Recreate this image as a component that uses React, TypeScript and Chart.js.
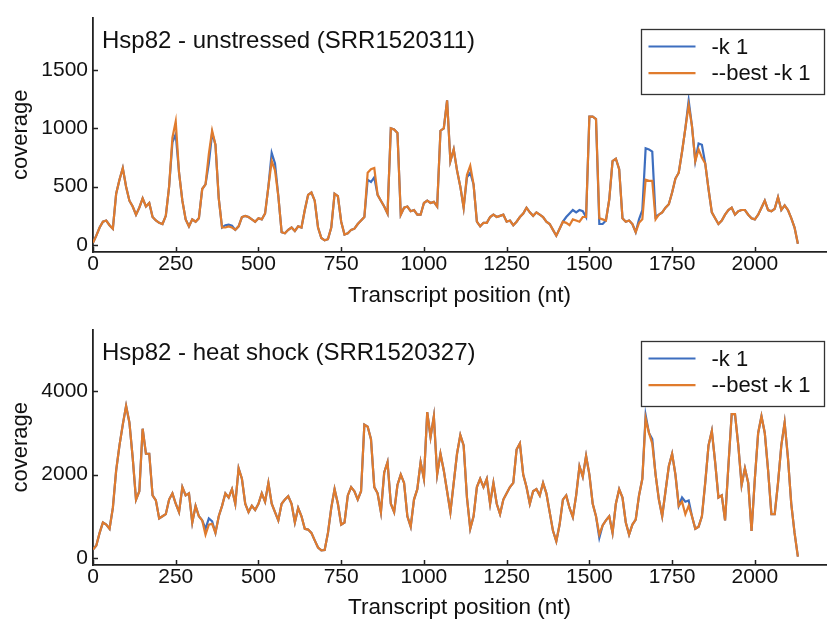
import React, { useEffect, useRef } from "react";
import { Chart, registerables } from "chart.js";

Chart.register(...registerables);

// ---------- data (coverage sampled every 10 nt) ----------
const positionStep = 10;
const positionCount = 214; // 0 .. 2130 nt
const positions: number[] = Array.from({ length: positionCount }, (_, i) => i * positionStep);

const seriesLabels = ["-k 1", "--best -k 1"];
const xTicks = [0, 250, 500, 750, 1000, 1250, 1500, 1750, 2000];
const yTicksUnstressed = [0, 500, 1000, 1500];
const yTicksHeat = [0, 2000, 4000];
const panelTitles = ["Hsp82 - unstressed (SRR1520311)", "Hsp82 - heat shock (SRR1520327)"];

// unstressed, --best -k 1
const unstressedBest: number[] = [
  20, 80, 150, 200, 210, 170, 140, 440, 560, 660,
  500, 380, 330, 260, 320, 400, 330, 360, 240, 210,
  190, 180, 250, 500, 920, 1060, 620, 380, 220, 160,
  220, 200, 230, 480, 520, 780, 980, 860, 400, 150,
  150, 160, 150, 130, 160, 240, 250, 240, 220, 200,
  230, 220, 270, 500, 720, 640, 420, 110, 100, 130,
  150, 120, 160, 150, 300, 430, 450, 380, 150, 60,
  40, 50, 150, 440, 420, 200, 90, 100, 130, 140,
  180, 210, 240, 620, 650, 660, 430, 380, 330, 270,
  1000, 990, 960, 260, 320, 330, 290, 300, 260, 260,
  360, 380, 360, 370, 330, 980, 1000, 1240, 720, 820,
  640, 500, 320, 600, 680, 520, 200, 160, 190, 190,
  240, 260, 240, 250, 260, 200, 210, 170, 200, 240,
  270, 320, 280, 250, 280, 260, 240, 200, 180, 130,
  80, 140, 200, 190, 170, 220, 210, 200, 240, 240,
  1100, 1100, 1080, 230, 220, 210, 390, 720, 740, 650,
  230, 200, 210, 180, 110, 190, 220, 560, 550, 550,
  220, 260, 280, 320, 350, 450, 570, 620, 800, 1000,
  1200, 1020, 720, 820, 750, 700, 480, 280, 230, 180,
  210, 260, 300, 320, 260, 290, 300, 300, 260, 230,
  220, 260, 320, 380, 300, 290, 310, 410, 300, 340,
  300, 230, 150, 10,
];

// unstressed, -k 1 : positions where it departs from --best -k 1
const unstressedK1Diffs: [number, number][] = [
  [240, 880], [250, 950], [350, 700], [360, 960], [400, 170], [410, 175], [420, 165],
  [540, 790], [550, 700], [830, 560], [840, 540], [850, 580], [1130, 580], [1140, 620],
  [1430, 240], [1440, 270], [1450, 300], [1460, 280], [1470, 300], [1480, 290],
  [1530, 180], [1540, 180], [1650, 220], [1660, 300], [1670, 830], [1680, 820],
  [1690, 800], [1700, 240], [1800, 1240], [1830, 870], [1840, 860],
];

// heat shock, --best -k 1
const heatBest: number[] = [
  200, 300, 600, 850, 800, 700, 1200, 2100, 2700, 3200,
  3650, 3250, 2400, 1400, 1600, 3100, 2500, 2500, 1500, 1380,
  950, 1000, 1050, 1400, 1550, 1300, 1100, 1700, 1500, 1550,
  850, 1250, 1000, 900, 560, 800, 820, 600, 1000, 1250,
  1550, 1450, 1650, 1300, 2150, 1900, 1300, 1100, 1250, 1150,
  1300, 1550, 1350, 1800, 1300, 1100, 900, 1300, 1400, 1480,
  1300, 850, 1200, 1000, 700, 680, 600, 420, 250, 180,
  190, 600, 1200, 1650, 1300, 800, 850, 1500, 1700, 1600,
  1400, 1600, 3200, 3150, 2850, 1700, 1550, 1100, 2050, 2300,
  1300, 1100, 1750, 2000, 1800, 1000, 750, 1400, 1650, 2300,
  1900, 3500, 2900, 3400, 2000, 2500, 2100, 1600, 1100, 1800,
  2500, 2950, 2700, 1450, 700, 1000, 1700, 1900, 1700, 1900,
  1300, 1800, 1300, 1050, 1400, 1550, 1700, 1800, 2600, 2750,
  2000, 1700, 1300, 1600, 1650, 1500, 1800, 1550, 1100, 650,
  400, 800, 1400, 1500, 1200, 980, 1500, 2200, 1950, 2450,
  2000, 1300, 1000, 560, 780, 900, 1000, 600, 1300, 1650,
  1450, 850, 560, 800, 920, 1500, 1900, 3350, 3000, 2750,
  2000, 1400, 1000, 1600, 2200, 2500, 2000, 1250, 1350, 1050,
  1250, 1000, 700, 750, 1000, 1800, 2700, 3050, 2300, 1450,
  1500, 900, 2200, 3450, 3450, 2700, 1750, 2150, 1800, 650,
  1900, 3000, 3400, 3000, 2100, 1050, 1050, 1800, 2700, 3250,
  2400, 1300, 600, 30,
];

// heat shock, -k 1 : positions where it departs from --best -k 1
const heatK1Diffs: [number, number][] = [
  [340, 700], [350, 950], [360, 880], [1530, 480], [1670, 3430], [1690, 2850],
  [1780, 1450], [1790, 1350], [1800, 1380],
];

// ---------- styling ----------
const BLUE = "#3d6ebf";
const ORANGE = "#e07b2d";
const AXIS = "#222222";
const TEXT = "#111111";
const FONT = '"Liberation Sans", Arial, Helvetica, sans-serif';

function toPoints(values: number[]) {
  return positions.map((p, i) => ({ x: p, y: values[i] }));
}
function withDiffs(values: number[], diffs: [number, number][]) {
  const m = new Map<number, number>(diffs);
  return positions.map((p, i) => ({ x: p, y: m.has(p) ? (m.get(p) as number) : values[i] }));
}

const decorPlugin = {
  id: "panelDecor",
  afterDraw(chart: any, _args: any, opts: any) {
    const { ctx, chartArea: a } = chart;
    const xs = chart.scales.x;
    const ys = chart.scales.y;
    ctx.save();
    // inward tick marks
    ctx.strokeStyle = AXIS;
    ctx.lineWidth = 1.5;
    ctx.beginPath();
    xs.ticks.forEach((t: any) => {
      const px = Math.round(xs.getPixelForValue(t.value)) + 0.5;
      ctx.moveTo(px, a.bottom);
      ctx.lineTo(px, a.bottom - 5);
    });
    ys.ticks.forEach((t: any) => {
      const py = Math.round(ys.getPixelForValue(t.value)) + 0.5;
      ctx.moveTo(a.left, py);
      ctx.lineTo(a.left + 5, py);
    });
    ctx.stroke();

    // panel title inside axes
    ctx.fillStyle = TEXT;
    ctx.font = `24px ${FONT}`;
    ctx.textBaseline = "alphabetic";
    ctx.textAlign = "left";
    ctx.fillText(opts.title, a.left + 9, a.top + 30);

    // legend box
    const bx = 641.5, by = Math.round(a.top + 11) + 0.5, bw = 183, bh = 65;
    ctx.fillStyle = "#ffffff";
    ctx.fillRect(bx, by, bw, bh);
    ctx.strokeStyle = "#333333";
    ctx.lineWidth = 1.3;
    ctx.strokeRect(bx, by, bw, bh);
    chart.data.datasets.forEach((ds: any, i: number) => {
      const ly = by + 17 + i * 26.7;
      ctx.strokeStyle = ds.borderColor;
      ctx.lineWidth = 2.2;
      ctx.beginPath();
      ctx.moveTo(bx + 7, ly);
      ctx.lineTo(bx + 54, ly);
      ctx.stroke();
      ctx.fillStyle = TEXT;
      ctx.font = `22px ${FONT}`;
      ctx.textBaseline = "middle";
      ctx.fillText(ds.label, bx + 70, ly + 1);
    });
    ctx.restore();
  },
};

type PanelProps = {
  title: string;
  best: number[];
  diffs: [number, number][];
  yMin: number;
  yMax: number;
  yTicks: number[];
  padTop: number;
  xHeight: number;
};

function CoveragePanel({ title, best, diffs, yMin, yMax, yTicks, padTop, xHeight }: PanelProps) {
  const ref = useRef<HTMLCanvasElement>(null);
  useEffect(() => {
    const chart = new Chart(ref.current as HTMLCanvasElement, {
      type: "line",
      data: {
        datasets: [
          {
            label: seriesLabels[0],
            data: withDiffs(best, diffs),
            borderColor: BLUE,
            backgroundColor: BLUE,
            borderWidth: 2.2,
            pointRadius: 0,
            tension: 0,
            order: 2,
          },
          {
            label: seriesLabels[1],
            data: toPoints(best),
            borderColor: ORANGE,
            backgroundColor: ORANGE,
            borderWidth: 2.2,
            pointRadius: 0,
            tension: 0,
            order: 1,
          },
        ],
      },
      options: {
        animation: false,
        responsive: false,
        maintainAspectRatio: false,
        layout: { padding: { left: 0, right: 2, top: padTop, bottom: 0 } },
        plugins: {
          legend: { display: false },
          tooltip: { enabled: false },
          // @ts-ignore
          panelDecor: { title },
        },
        scales: {
          x: {
            type: "linear",
            min: 0,
            max: 2215,
            grid: { display: false, drawTicks: false },
            border: { display: true, color: AXIS, width: 1.8 },
            afterBuildTicks: (s: any) => {
              s.ticks = xTicks.map((v) => ({ value: v }));
            },
            ticks: {
              autoSkip: false,
              maxRotation: 0,
              padding: 0,
              color: TEXT,
              font: { size: 21, family: FONT },
              callback: (v: any) => String(v),
            },
            title: {
              display: true,
              text: "Transcript position (nt)",
              color: TEXT,
              font: { size: 22.5, family: FONT },
              padding: { top: 0, bottom: 1 },
            },
            afterFit: (s: any) => {
              s.height = xHeight;
            },
          },
          y: {
            type: "linear",
            min: yMin,
            max: yMax,
            grid: { display: false, drawTicks: false },
            border: { display: true, color: AXIS, width: 1.8 },
            afterBuildTicks: (s: any) => {
              s.ticks = yTicks.map((v) => ({ value: v }));
            },
            ticks: {
              padding: 5,
              color: TEXT,
              font: { size: 21, family: FONT },
              callback: (v: any) => String(v),
            },
            title: {
              display: true,
              text: "coverage",
              color: TEXT,
              font: { size: 22, family: FONT },
              padding: { top: 8, bottom: 0 },
            },
            afterFit: (s: any) => {
              s.width = 93;
            },
          },
        },
      },
      plugins: [decorPlugin],
    } as any);
    return () => chart.destroy();
  }, []);
  return <canvas ref={ref} width={828} height={310} style={{ display: "block" }} />;
}

export default function App() {
  return (
    <div style={{ position: "fixed", left: 0, top: 0, width: 828, height: 622, background: "#fff" }}>
      <div style={{ position: "absolute", left: 0, top: 0 }}>
        <CoveragePanel
          title={panelTitles[0]}
          best={unstressedBest}
          diffs={unstressedK1Diffs}
          yMin={-60}
          yMax={1950}
          yTicks={yTicksUnstressed}
          padTop={12}
          xHeight={58}
        />
      </div>
      <div style={{ position: "absolute", left: 0, top: 312 }}>
        <CoveragePanel
          title={panelTitles[1]}
          best={heatBest}
          diffs={heatK1Diffs}
          yMin={-170}
          yMax={5480}
          yTicks={yTicksHeat}
          padTop={13}
          xHeight={57}
        />
      </div>
    </div>
  );
}
